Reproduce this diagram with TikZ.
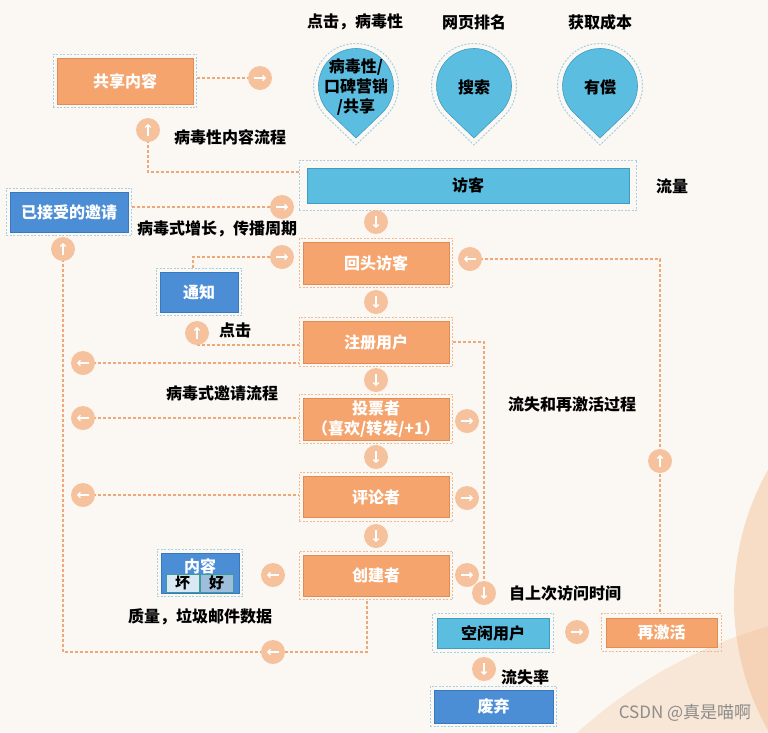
\documentclass[tikz,border=0pt]{standalone}
\usepackage{fontspec}
\setmainfont{Noto Sans CJK SC}
\usetikzlibrary{calc,arrows.meta,fit}
\definecolor{bg}{HTML}{FBF8F3}
\definecolor{org}{HTML}{F4A46C}
\definecolor{orgd}{HTML}{E08D55}
\definecolor{blu}{HTML}{4C8ED5}
\definecolor{blud}{HTML}{3A78BE}
\definecolor{cya}{HTML}{5BBDE0}
\definecolor{cyad}{HTML}{3E9DC4}
\definecolor{circ}{HTML}{F5C29D}
\definecolor{lin}{HTML}{EFA878}
\definecolor{frO}{HTML}{F0BA94}
\definecolor{frB}{HTML}{A8CFE4}
\definecolor{peach}{HTML}{F2B68A}
\definecolor{cellA}{HTML}{D9E8F3}
\definecolor{cellB}{HTML}{9EBEDB}
\definecolor{cellD}{HTML}{3C9B9B}
\begin{document}
\begin{tikzpicture}[x=1pt,y=-1pt,
  txt/.style={font=\bfseries\fontsize{16}{20}\selectfont, inner sep=0pt},
  lab/.style={txt, text=black},
  obox/.style={txt, draw=orgd, fill=org, text=white, line width=0.6pt},
  bbox/.style={txt, draw=blud, fill=blu, text=white, line width=0.6pt},
  cbox/.style={txt, draw=cyad, fill=cya, text=black, line width=0.6pt},
  fitO/.style={draw=frO, dash pattern=on 2pt off 1.5pt, line width=1pt, inner sep=3.5pt},
  fitB/.style={draw=frB, dash pattern=on 2pt off 1.5pt, line width=1pt, inner sep=3.5pt},
  ln/.style={draw=lin, line width=1.1pt, dash pattern=on 3pt off 2pt},
  ac/.style={circle, fill=circ, minimum size=24pt, inner sep=0pt,
    path picture={\draw[white, line width=1.3pt, -{Straight Barb[length=2.5pt,width=5.5pt]}]
      ($(path picture bounding box.center)+(#1+180:6pt)$) -- ($(path picture bounding box.center)+(#1:6pt)$);}},
  cell/.style={draw=cellD, line width=0.6pt, minimum width=33pt, minimum height=18pt, inner sep=0pt, text=black,
    font=\bfseries\fontsize{15}{18}\selectfont}
]
\useasboundingbox (0,0) rectangle (768,732);
\fill[bg] (0,0) rectangle (768,732);
\begin{scope}
  \clip (0,0) rectangle (768,732);
  \fill[peach, opacity=.42] (1000,600) circle[radius=266];
  \fill[peach, opacity=.27] (900,1088) circle[radius=480];
\end{scope}

% pins
\foreach \cx in {356,474,600}{
  \draw[frB, dash pattern=on 2pt off 1.5pt, line width=1pt]
    (\cx,86) ++(-46.1:42.5pt) arc[start angle=-46.1, end angle=226.1, radius=42.5pt] -- (\cx,145) -- cycle;
  \draw[cyad, fill=cya, line width=0.6pt]
    (\cx,86) ++(-46.1:37.5pt) arc[start angle=-46.1, end angle=226.1, radius=37.5pt] -- (\cx,138) -- cycle;
}
\node[lab, align=center] (pinA) at (356,87) {病毒性/\\口碑营销\\/共享};
\node[lab] (pinB) at (474,87) {搜索};
\node[lab] (pinC) at (600,87) {有偿};
\node[lab] (tA) at (355,22) {点击，病毒性};
\node[lab] (tB) at (474,22) {网页排名};
\node[lab] (tC) at (600,22) {获取成本};

% boxes
\node[obox, minimum width=136pt, minimum height=46pt] (share) at (125,81) {共享内容};
\node[cbox, minimum width=322pt, minimum height=35pt] (visitor) at (468,185.5) {访客};
\node[bbox, minimum width=118pt, minimum height=40pt] (accept) at (69,212) {已接受的邀请};
\node[obox, minimum width=146pt, minimum height=42pt] (back) at (376,263) {回头访客};
\node[bbox, minimum width=78pt, minimum height=40pt] (notify) at (199,292) {通知};
\node[obox, minimum width=146pt, minimum height=42pt] (register) at (376,342) {注册用户};
\node[obox, minimum width=146pt, minimum height=42pt, align=center] (voter) at (376,419) {投票者\\（喜欢/转发/+1）};
\node[obox, minimum width=146pt, minimum height=41pt] (commenter) at (376,497) {评论者};
\node[obox, minimum width=146pt, minimum height=41pt] (creator) at (376,575.5) {创建者};
\node[bbox, minimum width=78pt, minimum height=40pt] (content) at (200,573) {};
\node[txt, text=white] (contentT) at (200,566) {内容};
\node[cell, fill=cellA] (bad) at (182.5,583) {坏};
\node[cell, fill=cellB] (good) at (216.5,583) {好};
\node[cbox, minimum width=112pt, minimum height=30pt] (idle) at (493,633) {空闲用户};
\node[obox, minimum width=111pt, minimum height=29pt] (react) at (661.5,632.5) {再激活};
\node[bbox, minimum width=119pt, minimum height=33pt] (abandon) at (493.5,706.5) {废弃};

% frames
\node[fitB, fit=(share)] (sharef) {};
\node[fitB, fit=(visitor), inner sep=7.5pt] (visitorf) {};
\node[fitB, fit=(accept)] (acceptf) {};
\node[fitO, fit=(back)] (backf) {};
\node[fitB, fit=(notify)] (notifyf) {};
\node[fitO, fit=(register)] (registerf) {};
\node[fitO, fit=(voter)] (voterf) {};
\node[fitO, fit=(commenter)] (commenterf) {};
\node[fitO, fit=(creator)] (creatorf) {};
\node[fitB, fit=(content)] (contentf) {};
\node[fitB, fit=(idle), inner sep=4pt] (idlef) {};
\node[fitO, fit=(react), inner sep=4pt] (reactf) {};
\node[fitB, fit=(abandon)] (abandonf) {};

% coordinates
\coordinate (c1p) at (260,78);
\coordinate (c2p) at (148,130);
\coordinate (c3p) at (282,207);
\coordinate (c4p) at (63,249);
\coordinate (c6p) at (282,257);
\coordinate (c7p) at (470,259);
\coordinate (c9p) at (197,333);
\coordinate (c9b) at (197,345);
\coordinate (c10p) at (83,363);
\coordinate (c12p) at (83,418);
\coordinate (c15p) at (83,495);
\coordinate (c20p) at (484,593);
\coordinate (k1) at (148,172);
\coordinate (k2) at (63,652);
\coordinate (k3) at (367,652);
\coordinate (k4) at (193,257);
\coordinate (k5) at (660,259);
\coordinate (k6) at (484,342);

% connectors
\draw[ln] (sharef.east |- c1p) -- (c1p);
\draw[ln] (c2p) -- (k1) -- (k1 -| visitorf.west);
\draw[ln] (acceptf.east |- c3p) -- (c3p);
\draw[ln] (c4p) -- (k2) -- (k3) -- (k3 |- creatorf.south);
\draw[ln] (k4 |- notifyf.north) -- (k4) -- (c6p);
\draw[ln] (c9b) -- (c9b -| registerf.west);
\draw[ln] (c10p) -- (c10p -| registerf.west);
\draw[ln] (c12p) -- (c12p -| voterf.west);
\draw[ln] (c15p) -- (c15p -| commenterf.west);
\draw[ln] (c7p) -- (k5) -- (k5 |- reactf.north);
\draw[ln] (registerf.east) -- (k6) -- (c20p);

% arrow circles
\node[ac=0] (c1) at (c1p) {};
\node[ac=90] (c2) at (c2p) {};
\node[ac=0] (c3) at (c3p) {};
\node[ac=90] (c4) at (c4p) {};
\node[ac=-90] (c5) at (376,222) {};
\node[ac=0] (c6) at (c6p) {};
\node[ac=180] (c7) at (c7p) {};
\node[ac=-90] (c8) at (376,302) {};
\node[ac=90] (c9) at (c9p) {};
\node[ac=180] (c10) at (c10p) {};
\node[ac=-90] (c11) at (376,380) {};
\node[ac=180] (c12) at (c12p) {};
\node[ac=0] (c13) at (467,421) {};
\node[ac=-90] (c14) at (376,457) {};
\node[ac=180] (c15) at (c15p) {};
\node[ac=0] (c16) at (467,498) {};
\node[ac=-90] (c17) at (376,536) {};
\node[ac=180] (c18) at (273,575) {};
\node[ac=0] (c19) at (467,575) {};
\node[ac=-90] (c20) at (c20p) {};
\node[ac=180] (c21) at (273,652) {};
\node[ac=90] (c22) at (660,461) {};
\node[ac=0] (c23) at (577,632) {};
\node[ac=-90] (c24) at (484,669) {};

% labels
\node[lab] (l1) at (230,137) {病毒性内容流程};
\node[lab] (l2) at (217,229) {病毒式增长，传播周期};
\node[lab] (l3) at (235,330) {点击};
\node[lab] (l4) at (222,393) {病毒式邀请流程};
\node[lab] (l5) at (672,186) {流量};
\node[lab] (l6) at (572,404) {流失和再激活过程};
\node[lab] (l7) at (565,593) {自上次访问时间};
\node[lab] (l8) at (525,677) {流失率};
\node[lab] (l9) at (200,617) {质量，垃圾邮件数据};
\node[font=\fontsize{17}{20}\selectfont, text=black!45, inner sep=0pt] (wm) at (685,713) {CSDN @真是喵啊};
\end{tikzpicture}
\end{document}
